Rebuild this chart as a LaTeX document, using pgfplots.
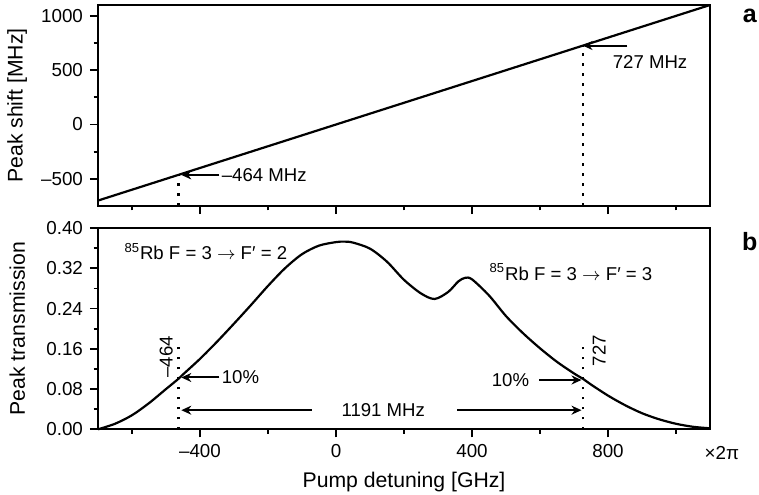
\documentclass[border=0pt]{standalone}
\usepackage{pgfplots}
\pgfplotsset{compat=1.18}
\usepackage{pgfplotstable}
\usepackage{fontspec}
\setmainfont{Liberation Sans}
\usetikzlibrary{arrows.meta}

% Peak transmission versus pump detuning
\pgfplotstableread{
det   trans
-700  0.000
-650  0.011
-600  0.028
-550  0.052
-500  0.080
-464  0.100
-450  0.109
-400  0.140
-350  0.174
-300  0.210
-250  0.247
-200  0.285
-150  0.320
-100  0.348
-50   0.365
0     0.372
25    0.373
50    0.371
100   0.359
150   0.333
200   0.297
250   0.270
290   0.259
330   0.273
360   0.294
380   0.301
400   0.298
450   0.266
500   0.225
550   0.191
600   0.161
650   0.134
700   0.111
727   0.100
750   0.089
800   0.067
850   0.048
900   0.032
950   0.020
1000  0.011
1050  0.005
1100  0.002
}\transmission

\tikzset{
  ann/.style={font=\fontsize{9.3}{11}\selectfont, inner sep=0pt},
  pointer/.style={-{Stealth[length=5pt,width=4.5pt]}, line width=1pt},
  dots/.style={line width=1.3pt, dash pattern=on 1.3pt off 3.7pt},
  panelmark/.style={font=\bfseries\fontsize{12.5}{14}\selectfont},
}
\pgfplotsset{
  panel/.style={
    scale only axis, width=306pt,
    xmin=-700, xmax=1100,
    axis line style={line width=1.1pt},
    every tick/.style={line width=0.9pt, black},
    tick align=outside, xtick pos=left, ytick pos=left,
    major tick length=4pt, minor tick length=2.2pt,
    xtick={-400,0,400,800}, minor xtick={-600,-200,200,600,1000},
    tick label style={font=\fontsize{9.4}{10}\selectfont},
    label style={font=\fontsize{10.6}{12}\selectfont},
    clip=false,
  },
}

\begin{document}
\begin{tikzpicture}
\useasboundingbox (0pt,0pt) rectangle (379.5pt,247pt);

% (a) peak shift
\begin{axis}[panel,
  at={(49pt,144pt)}, anchor=south west, height=100.5pt,
  ymin=-750, ymax=1100,
  ytick={-500,0,500,1000}, yticklabels={–500,0,500,1000},
  minor ytick={-250,250,750},
  xticklabels={},
  ylabel={Peak shift [MHz]},
  ylabel style={at={(axis description cs:-0.132,0.5)}, anchor=center},
]
\addplot[black, line width=1.1pt] coordinates {(-700,-700) (1100,1100)};
\addplot[dots] coordinates {(-464,-750) (-464,-464)};
\addplot[dots] coordinates {(727,-750) (727,727)};
\draw[pointer] (axis cs:-343,-464) -- (axis cs:-455,-464);
\node[ann, anchor=west] at (axis cs:-337,-464) {–464 MHz};
\draw[pointer] (axis cs:857,727) -- (axis cs:725,727);
\node[ann, anchor=west] at (axis cs:813,571) {727 MHz};
\node[panelmark] at (rel axis cs:1.065,0.945) {a};
\end{axis}

% (b) peak transmission
\begin{axis}[panel,
  at={(49pt,32.35pt)}, anchor=south west, height=100.65pt,
  ymin=0, ymax=0.4,
  ytick={0,0.08,0.16,0.24,0.32,0.40},
  yticklabels={0.00,0.08,0.16,0.24,0.32,0.40},
  minor ytick={0.04,0.12,0.2,0.28,0.36},
  xticklabels={–400,0,400,800},
  xlabel={Pump detuning [GHz]},
  ylabel={Peak transmission},
  xlabel style={at={(axis description cs:0.5,-0.262)}, anchor=center},
  ylabel style={at={(axis description cs:-0.132,0.5)}, anchor=center},
]
\addplot[black, line width=1.1pt, smooth, tension=0.5] table[x=det, y=trans] {\transmission};
\addplot[dots] coordinates {(-464,0) (-464,0.171)};
\addplot[dots] coordinates {(727,0) (727,0.171)};
\node[ann, rotate=90] at (axis cs:-499,0.144) {–464};
\node[ann, rotate=90] at (axis cs:774,0.156) {727};
\draw[pointer] (axis cs:-343,0.103) -- (axis cs:-455,0.103);
\node[ann, anchor=west] at (axis cs:-337,0.103) {10\%};
\draw[pointer] (axis cs:598,0.098) -- (axis cs:722,0.098);
\node[ann, anchor=east] at (axis cs:569,0.098) {10\%};
\draw[pointer] (axis cs:-72,0.038) -- (axis cs:-455,0.038);
\draw[pointer] (axis cs:357,0.038) -- (axis cs:722,0.038);
\node[ann] at (axis cs:139,0.038) {1191 MHz};
\node[ann, anchor=west] at (axis cs:-623,0.353) {\textsuperscript{85}Rb F = 3 $\rightarrow$ F′ = 2};
\node[ann, anchor=west] at (axis cs:451,0.313) {\textsuperscript{85}Rb F = 3 $\rightarrow$ F′ = 3};
\node[font=\fontsize{9.4}{10}\selectfont] at (axis cs:1135,0) [yshift=-11.85pt] {×2π};
\node[panelmark] at (rel axis cs:1.065,0.935) {b};
\end{axis}
\end{tikzpicture}
\end{document}
